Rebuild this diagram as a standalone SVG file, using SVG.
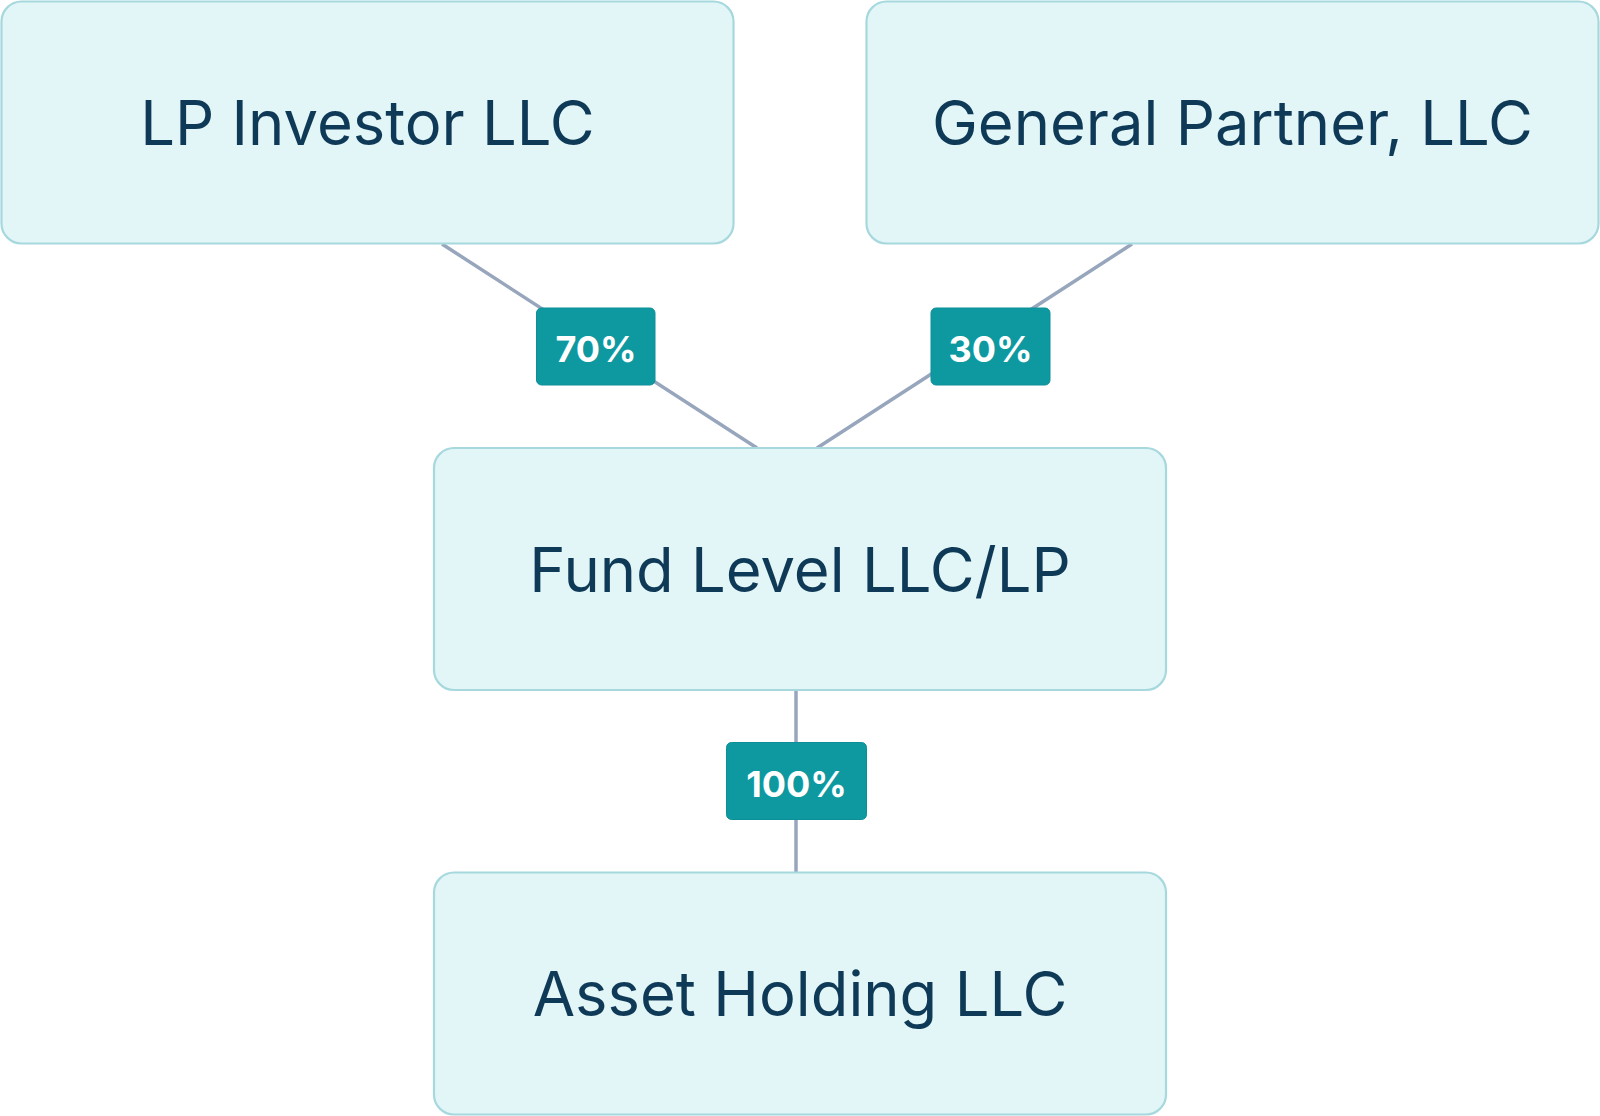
<svg xmlns="http://www.w3.org/2000/svg" width="1600" height="1116" viewBox="0 0 1600 1116">
  <style>
    .node rect { fill: #E3F6F7; stroke: #A6D8DE; stroke-width: 2.2; }
    .node text { font-family: Inter, "Liberation Sans", sans-serif; font-size: 61.5px; fill: #0F3A57; text-anchor: middle; }
    .conn line { stroke: #97A6BC; stroke-width: 3.5; }
    .badge rect { fill: #0E99A1; stroke: #0C8F97; stroke-width: 1; }
    .badge text { font-family: Inter, "Liberation Sans", sans-serif; font-weight: 700; font-size: 36px; fill: #FFFFFF; text-anchor: middle; }
  </style>
  <rect width="1600" height="1116" fill="#FFFFFF"/>
  <g id="connectors" class="conn">
    <line x1="442" y1="244" x2="757" y2="448"/>
    <line x1="1132" y1="244" x2="817" y2="448"/>
    <line x1="796" y1="690" x2="796" y2="872"/>
    <g class="badge">
      <rect x="536.5" y="308" width="118.5" height="77" rx="5"/>
      <text x="596" y="362">70%</text>
      <rect x="931" y="308" width="119" height="77" rx="5"/>
      <text x="990.5" y="362">30%</text>
      <rect x="726.5" y="742.5" width="140" height="77" rx="5"/>
      <text x="796.5" y="797">100%</text>
    </g>
  </g>
  <g id="lp-investor" class="node">
    <rect x="1.5" y="1.5" width="732" height="242" rx="20"/>
    <text x="367.5" y="145">LP Investor LLC</text>
  </g>
  <g id="general-partner" class="node">
    <rect x="866.5" y="1.5" width="732" height="242" rx="20"/>
    <text x="1232.5" y="145">General Partner, LLC</text>
  </g>
  <g id="fund-level" class="node">
    <rect x="434" y="448" width="732" height="242" rx="20"/>
    <text x="800" y="592">Fund Level LLC/LP</text>
  </g>
  <g id="asset-holding" class="node">
    <rect x="434" y="872.5" width="732" height="242" rx="20"/>
    <text x="800" y="1016">Asset Holding LLC</text>
  </g>
</svg>
